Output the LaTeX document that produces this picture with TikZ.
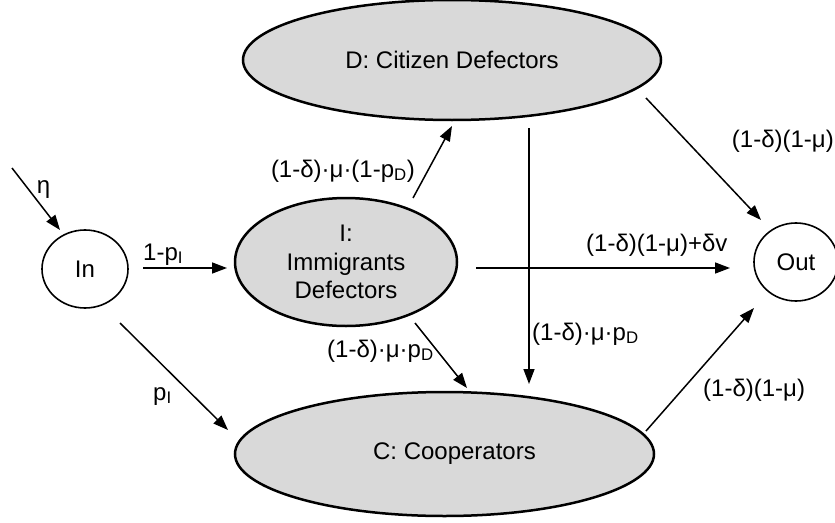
\documentclass[tikz,border=0pt]{standalone}
\usepackage{fontspec}
\setmainfont{Liberation Sans}
\usetikzlibrary{shapes.geometric,arrows.meta,calc}
\definecolor{ellfill}{RGB}{217,217,217}
\begin{document}
\begin{tikzpicture}[x=1pt,y=-1pt,
  font=\fontsize{24}{28.7}\selectfont,
  statebox/.style={ellipse, draw, line width=2.5pt, fill=ellfill, inner sep=0pt},
  portbox/.style={ellipse, draw, line width=1.6pt, inner sep=0pt},
  arr/.style={line width=1.5pt, -{Triangle[length=15pt,width=11pt]}},
  lbl/.style={inner sep=0pt}]
\useasboundingbox (0,0) rectangle (835,522);

\node[portbox, minimum width=86pt, minimum height=78pt] (In) at (85,269) {In};
\node[statebox, minimum width=222pt, minimum height=128pt, align=center] (I) at (346,262) {I:\\Immigrants\\Defectors};
\node[statebox, minimum width=418pt, minimum height=120pt] (D) at (452,60) {D: Citizen Defectors};
\node[statebox, minimum width=419pt, minimum height=124pt] (C) at (444.5,454) {\hspace*{20pt}C: Cooperators};
\node[portbox, minimum width=84pt, minimum height=78pt] (Out) at (796,262) {Out};

\coordinate (etaS) at (12,168);
\draw[arr] (etaS) -- ($(In)+(-25,-39)$);
\node[lbl] (etaL) at (43.5,190) {η};

\draw[arr] ($(In)+(58,-1)$) -- ($(I)+(-119,6)$);
\draw[arr] ($(In)+(35,54)$) -- ($(C)+(-216.5,-24)$);
\draw[arr] ($(I)+(67,-64)$) -- ($(D)+(0,66)$);
\draw[arr] ($(I)+(69,61)$) -- ($(C)+(22.5,-66)$);
\draw[arr] ($(D)+(77,68)$) -- ($(C)+(84.5,-70)$);
\draw[arr] ($(I)+(130,6)$) -- ($(Out)+(-66,6)$);
\draw[arr] ($(D)+(194,38)$) -- ($(Out)+(-35,-42)$);
\draw[arr] ($(C)+(201.5,-23)$) -- ($(Out)+(-42,46)$);

\node[lbl, anchor=base west] (l1) at (143,260) {1-p\textsubscript{I}};
\node[lbl, anchor=base west] (l2) at (153,400) {p\textsubscript{I}};
\node[lbl, anchor=base east] (l3) at (415,177) {(1-δ)·μ·(1-p\textsubscript{D})};
\node[lbl, anchor=base west] (l4) at (327,357) {(1-δ)·μ·p\textsubscript{D}};
\node[lbl, anchor=base west] (l5) at (532,340) {(1-δ)·μ·p\textsubscript{D}};
\node[lbl, anchor=base west] (l6) at (586,251) {(1-δ)(1-μ)+δv};
\node[lbl, anchor=base east] (l7) at (834,147) {(1-δ)(1-μ)};
\node[lbl, anchor=base west] (l8) at (703,396) {(1-δ)(1-μ)};
\end{tikzpicture}
\end{document}
